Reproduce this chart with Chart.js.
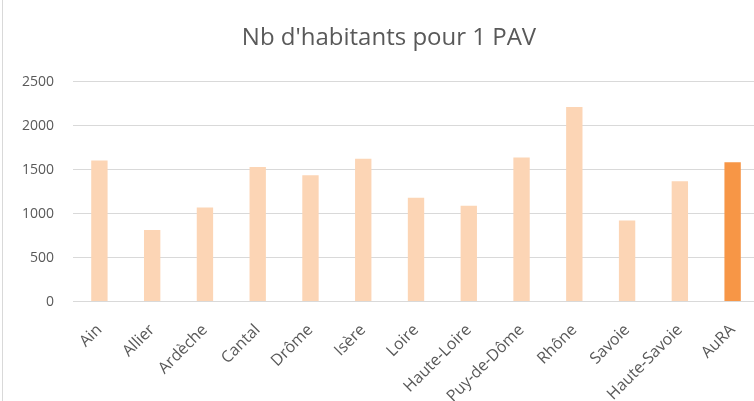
<!DOCTYPE html>
<html>
<head>
<meta charset="utf-8">
<script src="https://cdn.jsdelivr.net/npm/chart.js@4"></script>
<style>
  html, body { margin: 0; padding: 0; background: #fff; overflow: hidden; }
  #frame { position: absolute; left: 2px; top: 0; width: 762px; height: 401px; border-left: 1px solid #d9d9d9; }
  #wrap { position: absolute; left: 0; top: 0; width: 759px; height: 417px; }
</style>
</head>
<body>
<div id="frame"></div>
<div id="wrap"><canvas id="chart"></canvas></div>
<script>
// departements + region total
const departements = ["Ain", "Allier", "Ardèche", "Cantal", "Drôme", "Isère", "Loire", "Haute-Loire", "Puy-de-Dôme", "Rhône", "Savoie", "Haute-Savoie", "AuRA"]
const habitantsParPav = [1605, 815, 1070, 1530, 1437, 1625, 1180, 1090, 1640, 2212, 923, 1369, 1585]
const yTicks = [0, 500, 1000, 1500, 2000, 2500]

const lightOrange = "#fcd5b5"
const darkOrange = "#f79646"
const colors = departements.map(d => d === "AuRA" ? darkOrange : lightOrange)

Chart.defaults.font.family = "'Open Sans', 'Noto Sans', sans-serif"
Chart.defaults.color = "#595959"

new Chart(document.getElementById("chart"), {
  type: "bar",
  data: {
    labels: departements,
    datasets: [{
      data: habitantsParPav,
      backgroundColor: colors,
      borderWidth: 0,
      barPercentage: 0.62,
      categoryPercentage: 0.5
    }]
  },
  options: {
    responsive: true,
    maintainAspectRatio: false,
    animation: false,
    layout: { padding: { left: 19, right: 0, top: 20, bottom: 0 } },
    plugins: {
      legend: { display: false },
      tooltip: { enabled: false },
      title: {
        display: true,
        text: "Nb d'habitants pour 1 PAV",
        color: "#595959",
        font: { size: 24, weight: "normal" },
        padding: { top: 4, bottom: 29 }
      }
    },
    scales: {
      x: {
        grid: { display: false },
        border: { display: false },
        ticks: {
          maxRotation: 45,
          minRotation: 45,
          autoSkip: false,
          font: { size: 16 },
          padding: 11
        }
      },
      y: {
        min: 0,
        max: 2500,
        afterBuildTicks: axis => { axis.ticks = yTicks.map(v => ({ value: v })) },
        grid: { color: "#d9d9d9", lineWidth: 1, tickLength: 16, tickColor: "rgba(0,0,0,0)" },
        border: { display: false },
        ticks: { font: { size: 14 }, padding: 3, callback: v => String(v) }
      }
    }
  }
})
</script>
</body>
</html>
